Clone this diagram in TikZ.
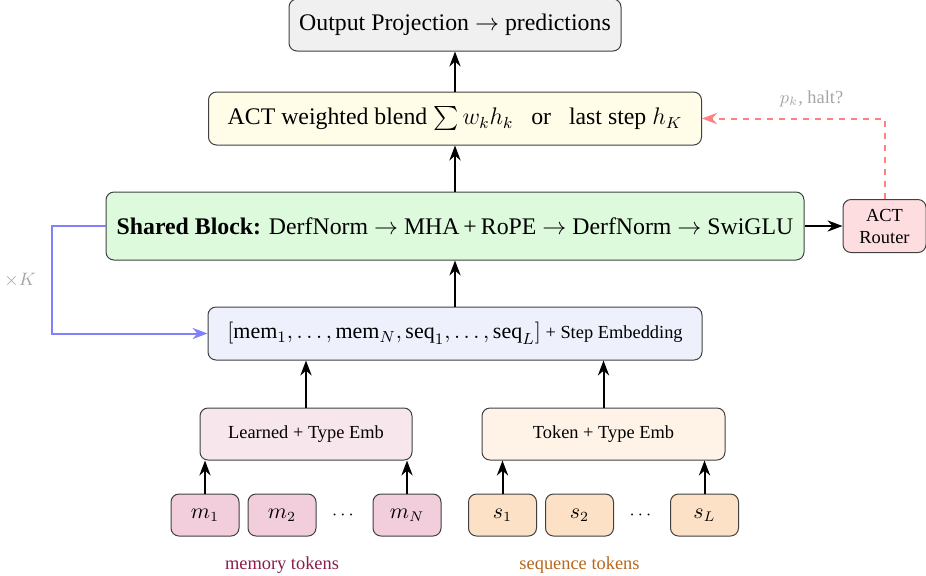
\documentclass[tikz,border=0pt]{standalone}
\usepackage{amsmath}
\usepackage[no-math]{fontspec}
\setmainfont{Liberation Serif}
\usepackage{tikz}
\usetikzlibrary{arrows.meta,positioning}

\definecolor{outfill}{RGB}{240,240,240}
\definecolor{blendfill}{RGB}{255,253,232}
\definecolor{sharedfill}{RGB}{221,250,221}
\definecolor{routerfill}{RGB}{253,221,224}
\definecolor{seqfill}{RGB}{238,240,252}
\definecolor{learnfill}{RGB}{248,230,237}
\definecolor{memfill}{RGB}{242,205,219}
\definecolor{memtext}{RGB}{140,28,76}
\definecolor{tokfill}{RGB}{255,243,232}
\definecolor{sfill}{RGB}{253,225,198}
\definecolor{seqtext}{RGB}{184,102,28}

\begin{document}
\begin{tikzpicture}[x=0.5pt,y=-0.5pt,>=Stealth,node distance=23pt,line width=1pt,
    box/.style={draw=black!75,line width=0.5pt,rounded corners=4pt,align=center,inner sep=2pt},
    big/.style={font=\fontsize{11.9}{14}\selectfont},
    small/.style={font=\fontsize{9.2}{11}\selectfont},
    tok/.style={box,font=\fontsize{10.5}{12}\selectfont,minimum width=34pt,minimum height=21pt}]

  \useasboundingbox (0,0) rectangle (926,575);

  \node[box,small,fill=seqfill,minimum width=247pt,minimum height=26.5pt] (seq) at (455,333.5)
    {{\fontsize{11}{13}\selectfont$[\text{mem}_1, \dots, \text{mem}_N, \text{seq}_1, \dots, \text{seq}_L]$} + Step Embedding};
  \node[box,big,fill=sharedfill,minimum width=349pt,minimum height=34pt,above=of seq] (shared)
    {\textbf{Shared Block:} DerfNorm $\rightarrow$ MHA\,+\,RoPE $\rightarrow$ DerfNorm $\rightarrow$ SwiGLU};
  \node[box,big,fill=blendfill,minimum width=246.5pt,minimum height=26.5pt,above=of shared] (blend)
    {ACT weighted blend $\sum w_k h_k$~~~or~~~last step $h_K$};
  \node[box,big,fill=outfill,minimum width=166pt,minimum height=26pt,above=20pt of blend] (out)
    {Output Projection $\rightarrow$ predictions};
  \node[box,small,fill=routerfill,minimum width=41.5pt,minimum height=26.5pt,right=19pt of shared] (router)
    {ACT\\Router};

  \node[box,small,fill=learnfill,minimum width=106pt,minimum height=26pt,below=23.5pt of seq,xshift=-74.5pt] (learned)
    {Learned + Type Emb};
  \node[box,small,fill=tokfill,minimum width=121.5pt,minimum height=26pt,below=23.5pt of seq,xshift=74.25pt] (token)
    {Token + Type Emb};

  % memory tokens
  \node[tok,fill=memfill,below=16.5pt of learned,xshift=-50.5pt] (m1) {$m_1$};
  \node[tok,fill=memfill,right=4pt of m1] (m2) {$m_2$};
  \node[tok,fill=memfill,below=16.5pt of learned,xshift=50.5pt] (mN) {$m_N$};
  \path (m2) -- node[small] (mdots) {$\cdots$} (mN);
  \node[small,text=memtext,below=6.5pt of m2] (memlabel) {memory tokens};

  % sequence tokens
  \node[tok,fill=sfill,below=16.5pt of token,xshift=-50.5pt] (s1) {$s_1$};
  \node[tok,fill=sfill,right=4pt of s1] (s2) {$s_2$};
  \node[tok,fill=sfill,below=16.5pt of token,xshift=50.5pt] (sL) {$s_L$};
  \path (s2) -- node[small] (sdots) {$\cdots$} (sL);
  \node[small,text=seqtext,below=6.5pt of s2] (seqlabel) {sequence tokens};

  \draw[->] (m1) -- (m1 |- learned.south);
  \draw[->] (mN) -- (mN |- learned.south);
  \draw[->] (s1) -- (s1 |- token.south);
  \draw[->] (sL) -- (sL |- token.south);
  \draw[->] (learned) -- (learned |- seq.south);
  \draw[->] (token) -- (token |- seq.south);
  \draw[->] (seq) -- (shared);
  \draw[->] (shared) -- (blend);
  \draw[->] (blend) -- (out);
  \draw[->] (shared) -- (router);

  % recurrence and halting
  \draw[->,blue!50] (shared.west) -- ++(-27pt,0) |- node[pos=0.25,left=4pt,small,text=black!35] {$\times K$} (seq.west);
  \draw[->,dashed,red!50] (router.north) |- node[pos=0.7,above=2pt,small,text=black!35] {$p_k$, halt?} (blend.east);
\end{tikzpicture}
\end{document}
